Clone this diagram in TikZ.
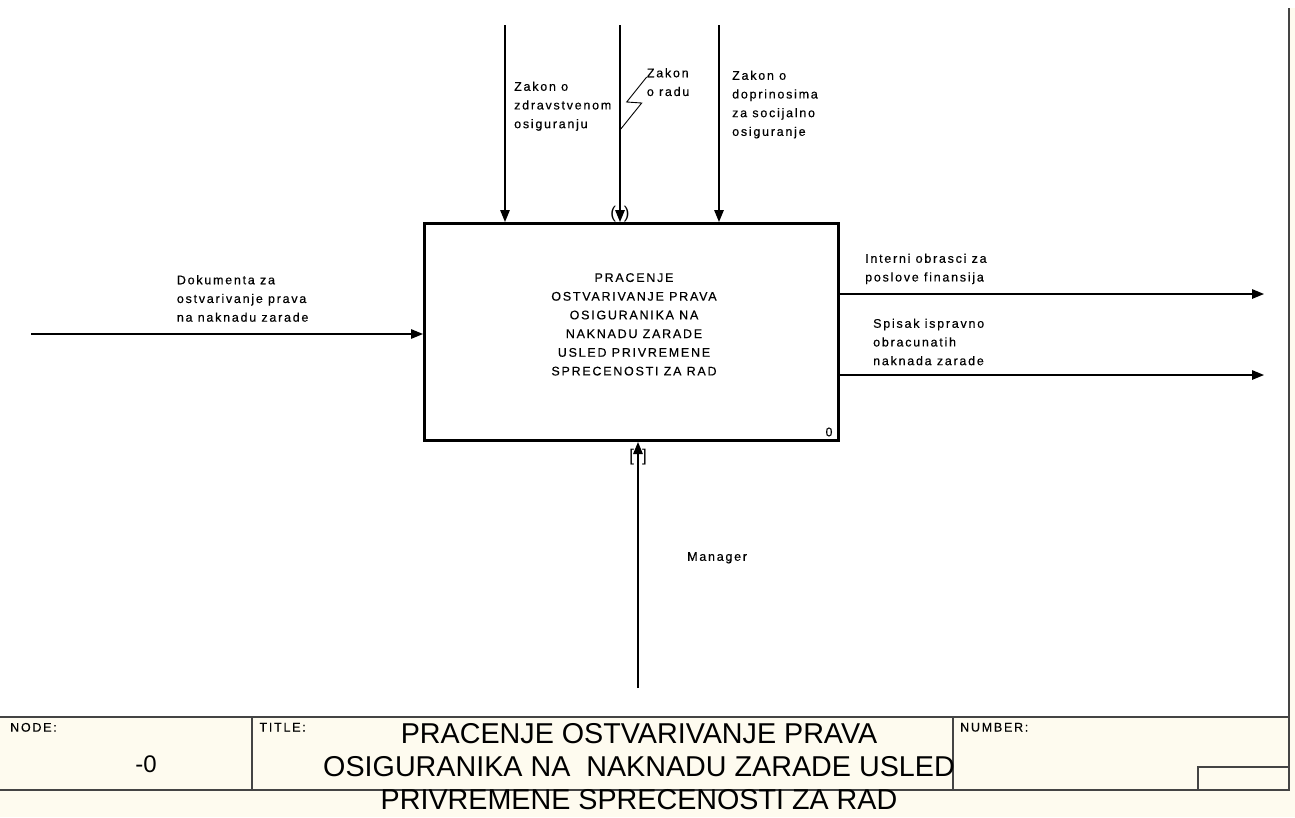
\documentclass[tikz,border=0pt]{standalone}
\usepackage{fontspec}
\setmainfont{Liberation Sans}
\newfontfamily\lblfont[LetterSpace=14,FakeBold=0.4]{Liberation Sans}
\usetikzlibrary{arrows.meta}
\newcommand{\lblsize}{\lblfont\fontsize{12.5pt}{18.7pt}\selectfont}
\newcommand{\ttlsize}{\fontsize{28.7pt}{33pt}\selectfont}
\definecolor{cream}{HTML}{FEFBEF}
\definecolor{framegray}{HTML}{444444}
\tikzset{
  lbl/.style={inner sep=0pt, anchor=north west, align=left, font=\lblsize},
  flow/.style={line width=1.4pt, -{Triangle[length=12pt,width=9.5pt]}},
  squig/.style={line width=0.9pt},
  actbox/.style={draw, line width=3pt, inner sep=0pt, minimum width=414pt, minimum height=217pt},
  frame/.style={line width=1.6pt, draw=framegray},
  ttl/.style={inner sep=0pt, anchor=north, align=center, font=\ttlsize},
  tunnel/.style={inner sep=0pt, font=\fontsize{17pt}{17pt}\selectfont}
}
\begin{document}
\begin{tikzpicture}[x=1pt,y=-1pt]
\useasboundingbox (0,0) rectangle (1295,817);
\fill[white] (0,0) rectangle (1295,817);
% form background
\fill[cream] (0,717) rectangle (1295,817);
\fill[cream] (1290,8) rectangle (1295,717);

% activity box
\node[actbox] (act) at (631.5,332) {};
\node[lbl, anchor=north, align=center] (acttext) at (634,273)
  {PRACENJE\\OSTVARIVANJE PRAVA\\OSIGURANIKA NA\\NAKNADU ZARADE\\USLED PRIVREMENE\\SPRECENOSTI ZA RAD};
\node[lbl, anchor=center] (actnum) at (829,432) {0};

% controls
\coordinate (c1) at (505,25);
\coordinate (c2) at (620,25);
\coordinate (c3) at (719,25);
\draw[flow] (c1) -- (c1 |- act.north);
\draw[flow] (c2) -- (c2 |- act.north);
\draw[flow] (c3) -- (c3 |- act.north);
\node[tunnel] (tun1) at (620,214) {(\hspace{8pt})};

\node[lbl] (l1) at (514,81.5) {Zakon o\\zdravstvenom\\osiguranju};
\node[lbl] (l2) at (646.7,68) {Zakon\\o radu};
\node[lbl] (l3) at (732,70.5) {Zakon o\\doprinosima\\za socijalno\\osiguranje};
\coordinate (sq) at (620,130);
\draw[squig] (sq) -- (641.7,103) -- (626.7,102) -- ([yshift=-9pt]l2.north west);

% input
\coordinate (i1) at (31,334);
\draw[flow] (i1) -- (i1 -| act.west);
\node[lbl] (in1) at (176.7,275) {Dokumenta za\\ostvarivanje prava\\na naknadu zarade};

% outputs
\coordinate (o1) at (1264,294);
\coordinate (o2) at (1264,375);
\draw[flow] (act.east |- o1) -- (o1);
\draw[flow] (act.east |- o2) -- (o2);
\node[lbl] (out1) at (865,253.5) {Interni obrasci za\\poslove finansija};
\node[lbl] (out2) at (873,318.5) {Spisak ispravno\\obracunatih\\naknada zarade};

% mechanism
\coordinate (m1) at (638,688);
\draw[flow] (m1) -- (m1 |- act.south);
\node[tunnel] (tun2) at (638,457) {[\hspace{8pt}]};
\node[lbl] (mech) at (687,552) {Manager};

% form frame
\draw[frame] (1289,8) -- (1289,790);
\draw[frame] (0,717) -- (1289,717);
\draw[frame] (0,790) -- (1289,790);
\draw[frame] (252,717) -- (252,790);
\draw[frame] (953,717) -- (953,790);
\draw[frame] (1198,767) rectangle (1289,790);

\node[lbl] (fnode) at (10,722.7) {NODE:};
\node[lbl] (ftitle) at (259.3,722.7) {TITLE:};
\node[lbl] (fnum) at (960,722.7) {NUMBER:};
\node[inner sep=0pt, font=\fontsize{24pt}{24pt}\selectfont] (nodeval) at (146,764.5) {-0};
\node[ttl] (title) at (639,723)
  {PRACENJE OSTVARIVANJE PRAVA\\OSIGURANIKA NA\ \ NAKNADU ZARADE USLED\\PRIVREMENE SPRECENOSTI ZA RAD};
\end{tikzpicture}
\end{document}
